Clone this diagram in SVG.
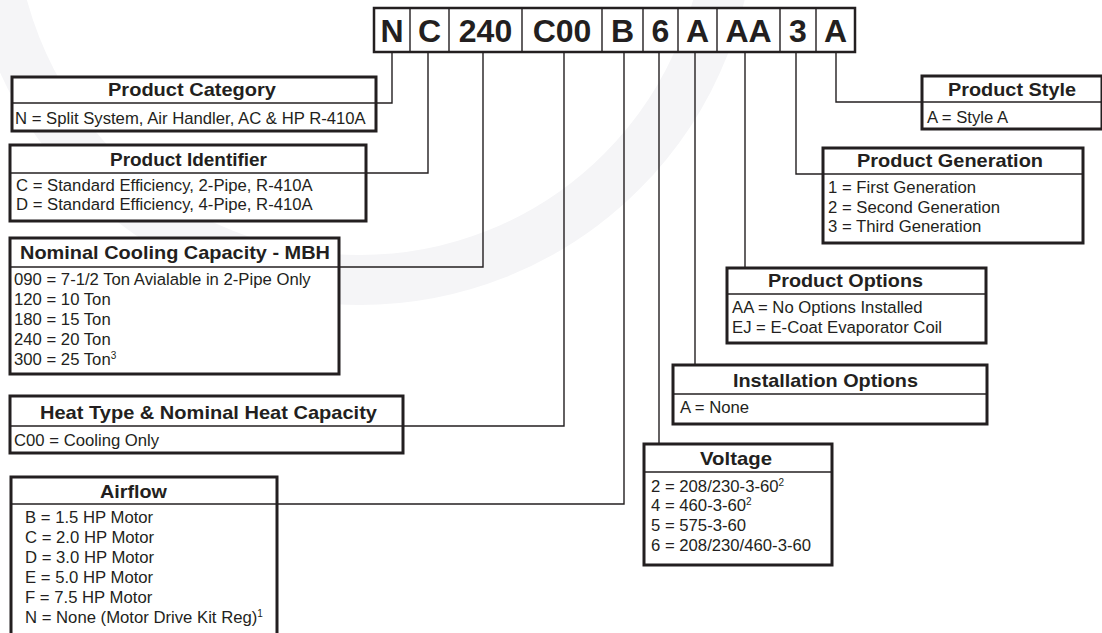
<svg xmlns="http://www.w3.org/2000/svg" width="1102" height="633" viewBox="0 0 1102 633">
<style>
.bg{fill:#ffffff}
.box{fill:#ffffff;stroke:#231f20;stroke-width:3}
.hd{stroke:#231f20;stroke-width:1.5;fill:none}
.cn{stroke:#231f20;stroke-width:1.4;fill:none}
.t{font-family:"Liberation Sans",Arial,sans-serif;font-weight:bold;font-size:18.5px;fill:#231f20;text-anchor:middle}
.b{font-family:"Liberation Sans",Arial,sans-serif;font-size:16.7px;fill:#231f20}
.code{font-family:"Liberation Sans",Arial,sans-serif;font-weight:bold;font-size:32px;fill:#231f20;text-anchor:middle}
.sup{font-size:10px}
</style>
<rect class="bg" x="0" y="0" width="1102" height="633"/>
<circle cx="360" cy="-90" r="370" fill="none" stroke="#f5f5f7" stroke-width="50"/>

<g id="connectors">
<path class="cn" d="M392 52 V103 H376"/>
<path class="cn" d="M428 52 V173 H366"/>
<path class="cn" d="M483 52 V267 H339"/>
<path class="cn" d="M564 52 V426 H403"/>
<path class="cn" d="M624 52 V504 H277"/>
<path class="cn" d="M659 52 V444"/>
<path class="cn" d="M695 52 V365"/>
<path class="cn" d="M745 52 V268"/>
<path class="cn" d="M796 52 V174 H823"/>
<path class="cn" d="M836 52 V102 H922"/>
</g>

<g id="code">
<rect x="374" y="8" width="481" height="44" fill="#ffffff" stroke="#231f20" stroke-width="2.5"/>
<path class="cn" d="M410 8V52M449 8V52M522 8V52M602 8V52M643 8V52M678 8V52M717 8V52M780 8V52M816 8V52"/>
<text class="code" x="392" y="42">N</text>
<text class="code" x="429.5" y="42">C</text>
<text class="code" x="485.5" y="42">240</text>
<text class="code" x="562" y="42">C00</text>
<text class="code" x="622.5" y="42">B</text>
<text class="code" x="660.5" y="42">6</text>
<text class="code" x="697.5" y="42">A</text>
<text class="code" x="748.5" y="42">AA</text>
<text class="code" x="798" y="42">3</text>
<text class="code" x="835.5" y="42">A</text>
</g>

<g id="product-category">
<rect class="box" x="12" y="77" width="364" height="54"/>
<path class="hd" d="M12 103H376"/>
<text class="t" x="192" y="96" textLength="168" lengthAdjust="spacingAndGlyphs">Product Category</text>
<text class="b" x="15" y="124">N = Split System, Air Handler, AC &amp; HP R-410A</text>
</g>

<g id="product-identifier">
<rect class="box" x="10" y="145" width="356" height="76"/>
<path class="hd" d="M10 173H366"/>
<text class="t" x="188.5" y="166" textLength="157" lengthAdjust="spacingAndGlyphs">Product Identifier</text>
<text class="b" x="16" y="191">C = Standard Efficiency, 2-Pipe, R-410A</text>
<text class="b" x="16" y="210">D = Standard Efficiency, 4-Pipe, R-410A</text>
</g>

<g id="nominal-cooling">
<rect class="box" x="10" y="238" width="329" height="136"/>
<path class="hd" d="M10 267H339"/>
<text class="t" x="175" y="259" textLength="310" lengthAdjust="spacingAndGlyphs">Nominal Cooling Capacity - MBH</text>
<text class="b" x="14" y="285">090 = 7-1/2 Ton Avialable in 2-Pipe Only</text>
<text class="b" x="14" y="305">120 = 10 Ton</text>
<text class="b" x="14" y="325">180 = 15 Ton</text>
<text class="b" x="14" y="345">240 = 20 Ton</text>
<text class="b" x="14" y="365">300 = 25 Ton<tspan class="sup" dy="-6">3</tspan></text>
</g>

<g id="heat-type">
<rect class="box" x="10" y="396" width="393" height="57"/>
<path class="hd" d="M10 426H403"/>
<text class="t" x="208.5" y="419" textLength="337" lengthAdjust="spacingAndGlyphs">Heat Type &amp; Nominal Heat Capacity</text>
<text class="b" x="14" y="446">C00 = Cooling Only</text>
</g>

<g id="airflow">
<rect class="box" x="11" y="477" width="266" height="175"/>
<path class="hd" d="M11 504H277"/>
<text class="t" x="133.5" y="498" textLength="67" lengthAdjust="spacingAndGlyphs">Airflow</text>
<text class="b" x="25" y="523">B = 1.5 HP Motor</text>
<text class="b" x="25" y="543">C = 2.0 HP Motor</text>
<text class="b" x="25" y="563">D = 3.0 HP Motor</text>
<text class="b" x="25" y="583">E = 5.0 HP Motor</text>
<text class="b" x="25" y="603">F = 7.5 HP Motor</text>
<text class="b" x="25" y="623">N = None (Motor Drive Kit Reg)<tspan class="sup" dy="-6">1</tspan></text>
</g>

<g id="product-style">
<rect class="box" x="922" y="76" width="180" height="53"/>
<path class="hd" d="M922 102H1102"/>
<text class="t" x="1012" y="96" textLength="128" lengthAdjust="spacingAndGlyphs">Product Style</text>
<text class="b" x="927" y="123">A = Style A</text>
</g>

<g id="product-generation">
<rect class="box" x="823" y="148" width="260" height="95"/>
<path class="hd" d="M823 174H1083"/>
<text class="t" x="950" y="167" textLength="186" lengthAdjust="spacingAndGlyphs">Product Generation</text>
<text class="b" x="828" y="193">1 = First Generation</text>
<text class="b" x="828" y="213">2 = Second Generation</text>
<text class="b" x="828" y="232">3 = Third Generation</text>
</g>

<g id="product-options">
<rect class="box" x="727" y="268" width="259" height="75"/>
<path class="hd" d="M727 294H986"/>
<text class="t" x="845.5" y="287" textLength="155" lengthAdjust="spacingAndGlyphs">Product Options</text>
<text class="b" x="732" y="313">AA = No Options Installed</text>
<text class="b" x="732" y="333">EJ = E-Coat Evaporator Coil</text>
</g>

<g id="installation-options">
<rect class="box" x="673" y="365" width="314" height="59"/>
<path class="hd" d="M673 394H987"/>
<text class="t" x="825.5" y="387" textLength="185" lengthAdjust="spacingAndGlyphs">Installation Options</text>
<text class="b" x="680" y="413">A = None</text>
</g>

<g id="voltage">
<rect class="box" x="644" y="444" width="188" height="121"/>
<path class="hd" d="M644 472H832"/>
<text class="t" x="736" y="465" textLength="72" lengthAdjust="spacingAndGlyphs">Voltage</text>
<text class="b" x="651" y="492">2 = 208/230-3-60<tspan class="sup" dy="-6">2</tspan></text>
<text class="b" x="651" y="511">4 = 460-3-60<tspan class="sup" dy="-6">2</tspan></text>
<text class="b" x="651" y="531">5 = 575-3-60</text>
<text class="b" x="651" y="551">6 = 208/230/460-3-60</text>
</g>
</svg>
